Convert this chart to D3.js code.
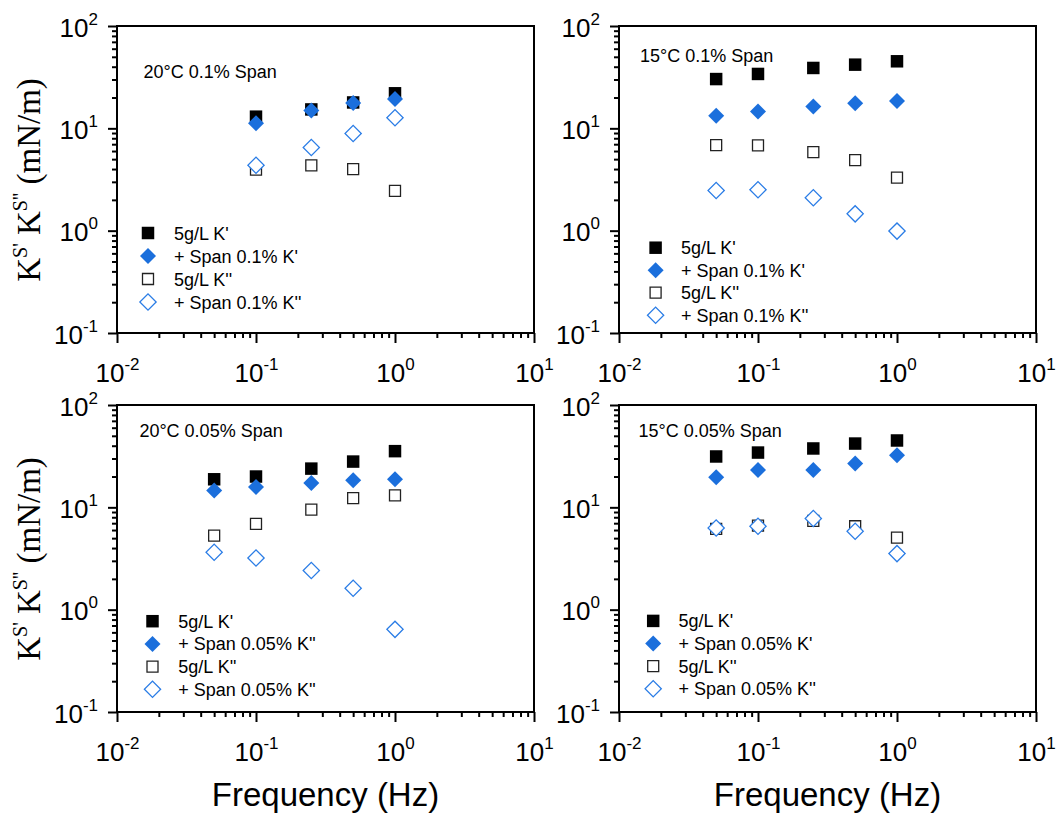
<!DOCTYPE html>
<html>
<head>
<meta charset="utf-8">
<script src="https://cdn.jsdelivr.net/npm/d3@7"></script>
<style>
  html, body { margin: 0; padding: 0; background: #fff; }
  svg { display: block; }
  text { font-family: "Liberation Sans", Arial, sans-serif; }
  text.serif { font-family: "Liberation Serif", "Times New Roman", serif; }
</style>
</head>
<body>
<svg id="chart" width="1056" height="813"></svg>
<script>
(function() {
  'use strict';

  // frequencies (Hz)
  const freqTL = [0.1, 0.25, 0.5, 1];
  const freqAll = [0.05, 0.1, 0.25, 0.5, 1];

  // 20°C 0.1% Span
  const tlKp = [13.0, 15.3, 17.9, 22.0];
  const tlKpSpan = [11.2, 14.9, 17.7, 19.3];
  const tlKpp = [3.95, 4.35, 4.0, 2.45];
  const tlKppSpan = [4.35, 6.5, 8.9, 12.7];

  // 15°C 0.1% Span
  const trKp = [30.3, 34.0, 38.9, 41.9, 45.2];
  const trKpSpan = [13.3, 14.6, 16.3, 17.6, 18.5];
  const trKpp = [6.86, 6.8, 5.85, 4.88, 3.3];
  const trKppSpan = [2.47, 2.51, 2.1, 1.46, 0.99];

  // 20°C 0.05% Span
  const blKp = [18.8, 20.0, 23.9, 28.0, 35.4];
  const blKpSpan = [14.6, 15.8, 17.3, 18.4, 18.8];
  const blKpp = [5.29, 6.89, 9.51, 12.3, 13.1];
  const blKppSpan = [3.64, 3.2, 2.41, 1.62, 0.642];

  // 15°C 0.05% Span
  const brKp = [31.4, 34.3, 37.6, 42.0, 45.0];
  const brKpSpan = [19.7, 23.1, 23.2, 26.8, 32.3];
  const brKpp = [6.15, 6.63, 7.37, 6.53, 5.06];
  const brKppSpan = [6.29, 6.53, 7.77, 5.84, 3.53];

  const titles = ['20°C 0.1% Span', '15°C 0.1% Span', '20°C 0.05% Span', '15°C 0.05% Span'];
  const legend01 = ["5g/L K'", "+ Span 0.1% K'", "5g/L K''", "+ Span 0.1% K''"];
  const legendBL = ["5g/L K'", "+ Span 0.05% K''", "5g/L K''", "+ Span 0.05% K''"];
  const legendBR = ["5g/L K'", "+ Span 0.05% K'", "5g/L K''", "+ Span 0.05% K''"];

  const xMajor = [0.01, 0.1, 1, 10];
  const yMajor = [0.1, 1, 10, 100];

  const W = 417, H = 307;
  const BLUE = '#1b6fdc';
  const BLUE_LINE = '#2b7de6';

  const svg = d3.select('#chart');

  const panels = [
    { x0: 117, y0: 26, freq: freqTL, series: [tlKp, tlKpSpan, tlKpp, tlKppSpan], title: titles[0], legend: legend01,
      ann: [26.5, 52], leg: { mx: 31, tx: 57, y: 207, dy: 23 }, ylabel: true },
    { x0: 619, y0: 26, freq: freqAll, series: [trKp, trKpSpan, trKpp, trKppSpan], title: titles[1], legend: legend01,
      ann: [21, 36], leg: { mx: 36.6, tx: 62, y: 221.7, dy: 22.5 }, ylabel: false },
    { x0: 117, y0: 405, freq: freqAll, series: [blKp, blKpSpan, blKpp, blKppSpan], title: titles[2], legend: legendBL,
      ann: [22.4, 31.7], leg: { mx: 35.5, tx: 61.3, y: 216.2, dy: 22.7 }, ylabel: true, xlabel: true },
    { x0: 619, y0: 405, freq: freqAll, series: [brKp, brKpSpan, brKpp, brKppSpan], title: titles[3], legend: legendBR,
      ann: [19.5, 32.4], leg: { mx: 34.2, tx: 59.5, y: 215.9, dy: 22.6 }, ylabel: false, xlabel: true }
  ];

  // marker styles: filled square, filled diamond, open square, open diamond
  const markers = [
    { size: 156, rot: 0, fill: '#000', stroke: 'none', sw: 0 },
    { size: 128, rot: 45, fill: BLUE, stroke: 'none', sw: 0 },
    { size: 121, rot: 0, fill: '#fff', stroke: '#222', sw: 1.3 },
    { size: 132, rot: 45, fill: '#fff', stroke: BLUE_LINE, sw: 1.3 }
  ];

  function minorTicks(lo, hi) {
    const out = [];
    for (let e = Math.log10(lo); e < Math.log10(hi); e++) {
      for (let m = 2; m <= 9; m++) out.push(m * Math.pow(10, e));
    }
    return out;
  }

  function superLabel(sel) {
    sel.each(function(d) {
      const t = d3.select(this);
      t.text('');
      t.append('tspan').text('10');
      t.append('tspan').attr('dy', -12).attr('font-size', 17).text(Math.round(Math.log10(d)));
    });
  }

  function drawPanel(p) {
    const g = svg.append('g').attr('transform', `translate(${p.x0},${p.y0})`);
    const x = d3.scaleLog().domain([0.01, 10]).range([0, W]);
    const y = d3.scaleLog().domain([0.1, 100]).range([H, 0]);

    // minor ticks
    g.append('g').attr('transform', `translate(0,${H})`)
      .call(d3.axisBottom(x).tickValues(minorTicks(0.01, 10)).tickSize(5).tickFormat(''))
      .call(a => a.select('.domain').remove())
      .call(a => a.selectAll('line').attr('stroke-width', 2));
    g.append('g')
      .call(d3.axisLeft(y).tickValues(minorTicks(0.1, 100)).tickSize(5).tickFormat(''))
      .call(a => a.select('.domain').remove())
      .call(a => a.selectAll('line').attr('stroke-width', 2));

    // major ticks + labels
    const xa = g.append('g').attr('transform', `translate(0,${H})`)
      .call(d3.axisBottom(x).tickValues(xMajor).tickSize(10).tickPadding(0))
      .call(a => a.select('.domain').remove())
      .call(a => a.selectAll('line').attr('stroke-width', 2));
    xa.selectAll('text')
      .attr('font-size', 26).attr('fill', '#000')
      .attr('dy', null).attr('y', 49)
      .call(superLabel);

    const ya = g.append('g')
      .call(d3.axisLeft(y).tickValues(yMajor).tickSize(9).tickPadding(0))
      .call(a => a.select('.domain').remove())
      .call(a => a.selectAll('line').attr('stroke-width', 2));
    ya.selectAll('text')
      .attr('font-size', 26).attr('fill', '#000')
      .attr('dy', null).attr('x', -19).attr('y', 10)
      .call(superLabel);

    // frame
    g.append('rect').attr('width', W).attr('height', H)
      .attr('fill', 'none').attr('stroke', '#000').attr('stroke-width', 2);

    // data points
    p.series.forEach((vals, i) => {
      const m = markers[i];
      const sym = d3.symbol(d3.symbolSquare, m.size);
      g.append('g').selectAll('path')
        .data(vals)
        .enter()
        .append('path')
        .attr('d', sym)
        .attr('transform', (d, j) => `translate(${x(p.freq[j])},${y(d)}) rotate(${m.rot})`)
        .attr('fill', m.fill)
        .attr('stroke', m.stroke)
        .attr('stroke-width', m.sw);
    });

    // annotation
    g.append('text')
      .attr('x', p.ann[0]).attr('y', p.ann[1])
      .attr('font-size', 18).attr('fill', '#000')
      .text(p.title);

    // legend
    const lg = g.append('g');
    p.legend.forEach((label, i) => {
      const m = markers[i];
      const cy = p.leg.y + i * p.leg.dy;
      lg.append('path')
        .attr('d', d3.symbol(d3.symbolSquare, m.size))
        .attr('transform', `translate(${p.leg.mx},${cy}) rotate(${m.rot})`)
        .attr('fill', m.fill)
        .attr('stroke', m.stroke)
        .attr('stroke-width', m.sw);
      lg.append('text')
        .attr('x', p.leg.tx).attr('y', cy + 6.5)
        .attr('font-size', 18).attr('fill', '#000')
        .text(label);
    });

    // y axis title (serif, as in the original)
    if (p.ylabel) {
      const t = svg.append('text')
        .attr('class', 'serif')
        .attr('transform', `translate(40,${p.y0 + 154}) rotate(-90)`)
        .attr('text-anchor', 'middle')
        .attr('font-size', 33).attr('fill', '#000');
      t.append('tspan').text('K');
      t.append('tspan').attr('dy', -13).attr('font-size', 20).text("S'");
      t.append('tspan').attr('dy', 13).text(' K');
      t.append('tspan').attr('dy', -13).attr('font-size', 20).text("S''");
      t.append('tspan').attr('dy', 13).text(' (mN/m)');
    }

    // x axis title
    if (p.xlabel) {
      svg.append('text')
        .attr('x', p.x0 + W / 2).attr('y', 806)
        .attr('text-anchor', 'middle')
        .attr('font-size', 33).attr('fill', '#000')
        .text('Frequency (Hz)');
    }
  }

  panels.forEach(drawPanel);
})();
</script>
</body>
</html>
